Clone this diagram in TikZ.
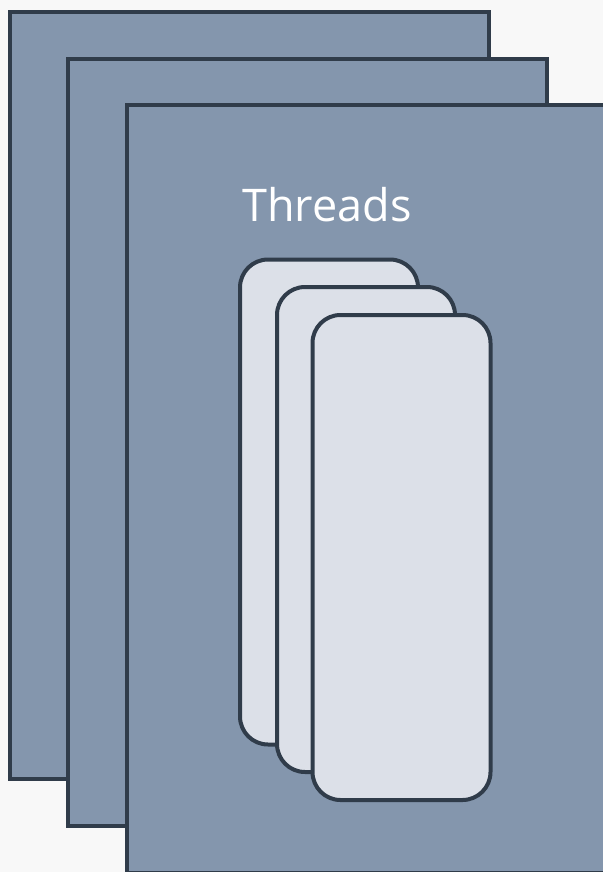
\documentclass[tikz,border=0pt]{standalone}
\usepackage{fontspec}
\setmainfont{Open Sans}
\usepackage{xcolor}
\definecolor{slate}{RGB}{132,150,173}
\definecolor{edge}{RGB}{48,60,74}
\definecolor{paper}{RGB}{220,224,232}
\definecolor{bgwhite}{RGB}{248,248,248}

\begin{document}
\begin{tikzpicture}[x=0.5pt, y=-0.5pt,
    process/.style={draw=edge, fill=slate, line width=2pt, inner sep=0pt,
      minimum width=239.5pt, minimum height=383.5pt},
    thread/.style={draw=edge, fill=paper, line width=2pt, inner sep=0pt,
      rounded corners=14pt, minimum width=89pt, minimum height=242.5pt}]
  \clip (0,0) rectangle (603,872);
  \fill[bgwhite] (0,0) rectangle (603,872);

  % processes, back to front
  \node[process] (proc1) at (249.5,395.5) {};
  \node[process] (proc2) at (307.5,442.5) {};
  \node[process] (proc3) at (366.5,489) {};

  \node[text=white, font=\fontsize{22.5}{27}\selectfont] (label) at (327,205) {Threads};

  % threads inside the front process
  \node[thread] (thr1) at (329,502) {};
  \node[thread] (thr2) at (366,529.5) {};
  \node[thread] (thr3) at (401.5,557.5) {};
\end{tikzpicture}
\end{document}
